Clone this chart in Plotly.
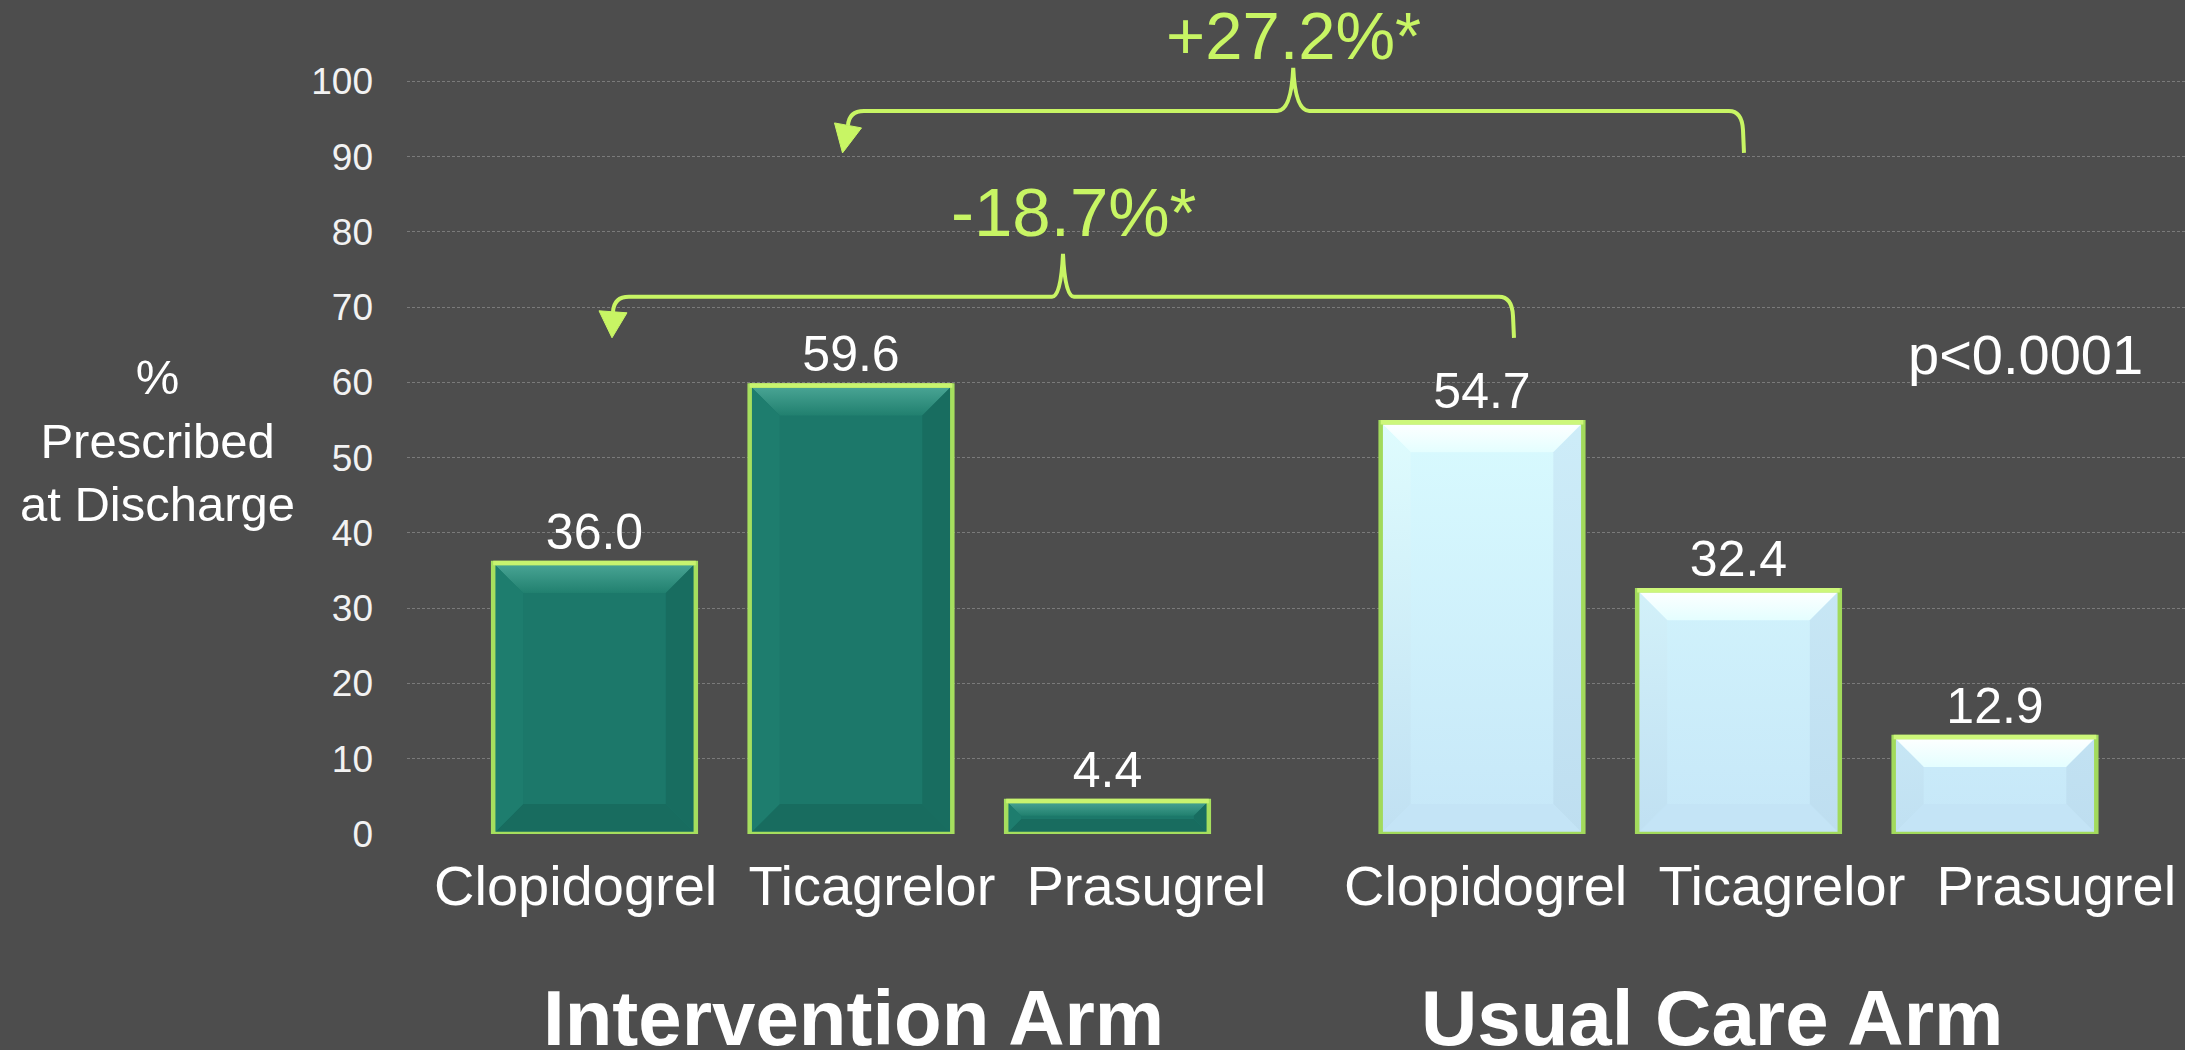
import plotly.graph_objects as go

# ---------------- data ----------------
drugs = ["Clopidogrel", "Ticagrelor", "Prasugrel"]
arm_names = ["Intervention Arm", "Usual Care Arm"]
intervention_pct = [36.0, 59.6, 4.4]
usual_care_pct = [54.7, 32.4, 12.9]
y_tick_values = [0, 10, 20, 30, 40, 50, 60, 70, 80, 90, 100]
y_title_lines = ["%", "Prescribed", "at Discharge"]
change_labels = ["+27.2%*", "-18.7%*"]
p_value_label = "p<0.0001"

# ---------------- layout constants ----------------
W, H = 2185, 1050
BG = "#4d4d4d"
LIME = "#c8f564"
FONT = "Liberation Sans, Arial, Helvetica, sans-serif"

PLOT_LEFT_PX = 407        # left edge of the plotting area
ZERO_PX = 834.5           # pixel row of y = 0
PX_PER_UNIT_Y = 7.53      # pixels per percentage point
FIRST_BAR_PX = 594.5      # pixel column of the first bar slot
PX_PER_SLOT = 256.5       # pixels per bar slot
GROUP_GAP = 0.46          # extra slots between the two arms
BAR_W = 0.79
BEVEL_PX = 30

x_range = [(PLOT_LEFT_PX - FIRST_BAR_PX) / PX_PER_SLOT, (W - FIRST_BAR_PX) / PX_PER_SLOT]
y_range = [0, ZERO_PX / PX_PER_UNIT_Y]


def to_x(px):
    return (px - FIRST_BAR_PX) / PX_PER_SLOT


def to_y(py):
    return (ZERO_PX - py) / PX_PER_UNIT_Y


def to_px(x):
    return FIRST_BAR_PX + x * PX_PER_SLOT


def to_py(y):
    return ZERO_PX - y * PX_PER_UNIT_Y


n = len(drugs)
arm_positions = [[g * (n + GROUP_GAP) + i for i in range(n)] for g in range(len(arm_names))]
arm_values = [intervention_pct, usual_care_pct]

TEAL = dict(
    face="#1c786a",
    face_grad=None,
    top=[[0, "#21806f"], [1, "#4ba696"]],
    left="#1e7d6e", right="#186d60", bottom="#186c5f",
    side_grad=None,
    border="#a6df5e", border_top="#c8f36f",
)
ICE = dict(
    face="#d6f8fd",
    face_grad=[[0, "#c6e7f8"], [1, "#dafcff"]],
    top=[[0, "#e4feff"], [1, "#ffffff"]],
    left=[[0, "#c0e0f2"], [1, "#e2ffff"]],
    right=[[0, "#bedef0"], [1, "#cfeef9"]],
    bottom="#c4e4f6",
    side_grad=True,
    border="#a2da5c", border_top="#cdf77a",
)
arm_styles = [TEAL, ICE]

fig = go.Figure()

# bars with value labels
for g, vals in enumerate(arm_values):
    st = arm_styles[g]
    fig.add_trace(go.Bar(
        x=arm_positions[g], y=vals, width=BAR_W,
        marker=dict(color=st["face"], line=dict(width=0)),
        text=[f"{v:.1f}" for v in vals], textposition="outside",
        textfont=dict(size=50, color="white", family=FONT),
        cliponaxis=False, hoverinfo="skip", showlegend=False,
    ))


def polygon(xs, ys, fill, start=None, stop=None):
    tr = go.Scatter(
        x=list(xs) + [xs[0]], y=list(ys) + [ys[0]], mode="lines", fill="toself",
        line=dict(width=0), hoverinfo="skip", showlegend=False,
    )
    if isinstance(fill, list):
        tr.fillgradient = dict(type="vertical", colorscale=fill,
                               start=start, stop=stop)
    else:
        tr.fillcolor = fill
    fig.add_trace(tr)


# bevelled faces drawn over each bar
shapes = []
for g, vals in enumerate(arm_values):
    st = arm_styles[g]
    for xc, v in zip(arm_positions[g], vals):
        x0, x1 = xc - BAR_W / 2, xc + BAR_W / 2
        by = min(BEVEL_PX / PX_PER_UNIT_Y, v * 0.45)
        bx = (by * PX_PER_UNIT_Y) / PX_PER_SLOT
        if st["face_grad"]:
            polygon([x0, x1, x1, x0], [0, 0, v, v], st["face_grad"], 0, 60)
        polygon([x0, x1, x1 - bx, x0 + bx], [v, v, v - by, v - by], st["top"], v - by, v)
        polygon([x0, x1, x1 - bx, x0 + bx], [0, 0, by, by], st["bottom"])
        if st["side_grad"]:
            polygon([x0, x0 + bx, x0 + bx, x0], [0, by, v - by, v], st["left"], 0, 60)
            polygon([x1, x1 - bx, x1 - bx, x1], [0, by, v - by, v], st["right"], 0, 60)
        else:
            polygon([x0, x0 + bx, x0 + bx, x0], [0, by, v - by, v], st["left"])
            polygon([x1, x1 - bx, x1 - bx, x1], [0, by, v - by, v], st["right"])
        shapes.append(dict(type="rect", xref="x", yref="y", x0=x0, x1=x1, y0=0, y1=v,
                           line=dict(color=st["border"], width=4.5), layer="above"))
        shapes.append(dict(type="line", xref="x", yref="y", x0=x0, x1=x1, y0=v, y1=v,
                           line=dict(color=st["border_top"], width=4.5), layer="above"))


def path_px(cmds):
    out = []
    for letter, pts in cmds:
        out.append(letter + " " + " ".join(f"{to_x(px):.5f},{to_y(py):.4f}" for px, py in pts))
    return " ".join(out)


def brace(tip_px, end_px, y_h, y_top, y_end, cusp_hw, base_l, base_r, shaft):
    cx = (tip_px + end_px) / 2
    sx, sy = tip_px + shaft[0], y_end + shaft[1]
    line_path = path_px([
        ("M", [(sx, sy)]),
        ("Q", [(sx + 1, y_h), (sx + 16, y_h)]),
        ("L", [(cx - cusp_hw, y_h)]),
        ("Q", [(cx - 2, y_h), (cx, y_top)]),
        ("Q", [(cx + 2, y_h), (cx + cusp_hw, y_h)]),
        ("L", [(end_px - 15, y_h)]),
        ("Q", [(end_px - 2, y_h), (end_px - 1, y_h + 19)]),
        ("L", [(end_px, y_end)]),
    ])
    shapes.append(dict(type="path", xref="x", yref="y", path=line_path,
                       line=dict(color=LIME, width=4), layer="above"))
    head = path_px([
        ("M", [(tip_px + base_l[0], y_end + base_l[1])]),
        ("L", [(tip_px + base_r[0], y_end + base_r[1])]),
        ("L", [(tip_px, y_end)]),
    ]) + " Z"
    shapes.append(dict(type="path", xref="x", yref="y", path=head,
                       fillcolor=LIME, line=dict(color=LIME, width=1), layer="above"))
    return cx


# Ticagrelor comparison (upper) and Clopidogrel comparison (lower)
cusp_up = brace(to_px(arm_positions[0][1]) - 8.5, to_px(arm_positions[1][1]) + 5.5,
                111, 68, 153, 16, (-8, -30), (19, -25), (5.5, -27.5))
cusp_lo = brace(to_px(arm_positions[0][0]) + 17.5, to_px(arm_positions[1][0]) + 32,
                297, 254, 338, 11, (-13, -27), (15, -25), (1, -26))

annotations = []
annotations.append(dict(x=to_x(cusp_up), y=to_y(63), xref="x", yref="y",
                        text=change_labels[0], showarrow=False, yanchor="bottom",
                        yshift=-12,
                        font=dict(size=67, color=LIME, family=FONT)))
annotations.append(dict(x=to_x(cusp_lo + 11), y=to_y(212.5), xref="x", yref="y",
                        text=change_labels[1], showarrow=False,
                        font=dict(size=69, color=LIME, family=FONT)))
annotations.append(dict(x=to_x(2025.5), y=to_y(355), xref="x", yref="y",
                        text=p_value_label.replace("<", "&lt;"), showarrow=False,
                        font=dict(size=56, color="white", family=FONT)))

plot_w = W - PLOT_LEFT_PX
plot_h = ZERO_PX


def paper_x(px):
    return (px - PLOT_LEFT_PX) / plot_w


def paper_y(py):
    return (ZERO_PX - py) / plot_h


# y-axis title
annotations.append(dict(x=paper_x(157), y=paper_y(441), xref="paper", yref="paper",
                        xanchor="center", yanchor="middle",
                        text="<br>".join(y_title_lines), showarrow=False, align="center",
                        font=dict(size=49, color="white", family=FONT)))

# drug name rows and arm captions
row_offsets_px = [-1.5, 22]
arm_offsets_px = [2, -26.5]
for g, name in enumerate(arm_names):
    mid = arm_positions[g][1]
    annotations.append(dict(x=to_x(to_px(mid) + row_offsets_px[g]), y=paper_y(886.4),
                            xref="x", yref="paper", text="\u00a0\u00a0".join(drugs),
                            showarrow=False, xanchor="center", yanchor="middle",
                            font=dict(size=56, color="white", family=FONT)))
    annotations.append(dict(x=to_x(to_px(mid) + arm_offsets_px[g]), y=paper_y(1019),
                            xref="x", yref="paper", text=name,
                            showarrow=False, xanchor="center", yanchor="middle",
                            font=dict(size=78, color="white", family=FONT, weight="bold")))

fig.update_layout(
    width=W, height=H,
    paper_bgcolor=BG, plot_bgcolor=BG,
    margin=dict(l=PLOT_LEFT_PX, r=0, t=0, b=H - ZERO_PX, pad=0),
    showlegend=False,
    bargap=0,
    shapes=shapes,
    annotations=annotations,
    xaxis=dict(range=x_range, showticklabels=False, showgrid=False,
               zeroline=False, showline=False, fixedrange=True),
    yaxis=dict(range=y_range, tickmode="array", tickvals=y_tick_values,
               ticktext=[str(v) for v in y_tick_values],
               tickfont=dict(size=37, color="#f2f2f2", family=FONT),
               ticks="", ticklabelstandoff=33,
               showgrid=True, gridcolor="#7a7a7a", gridwidth=1, griddash="3px,2px",
               zeroline=False, showline=False, fixedrange=True),
)

fig.write_html("out.html")
